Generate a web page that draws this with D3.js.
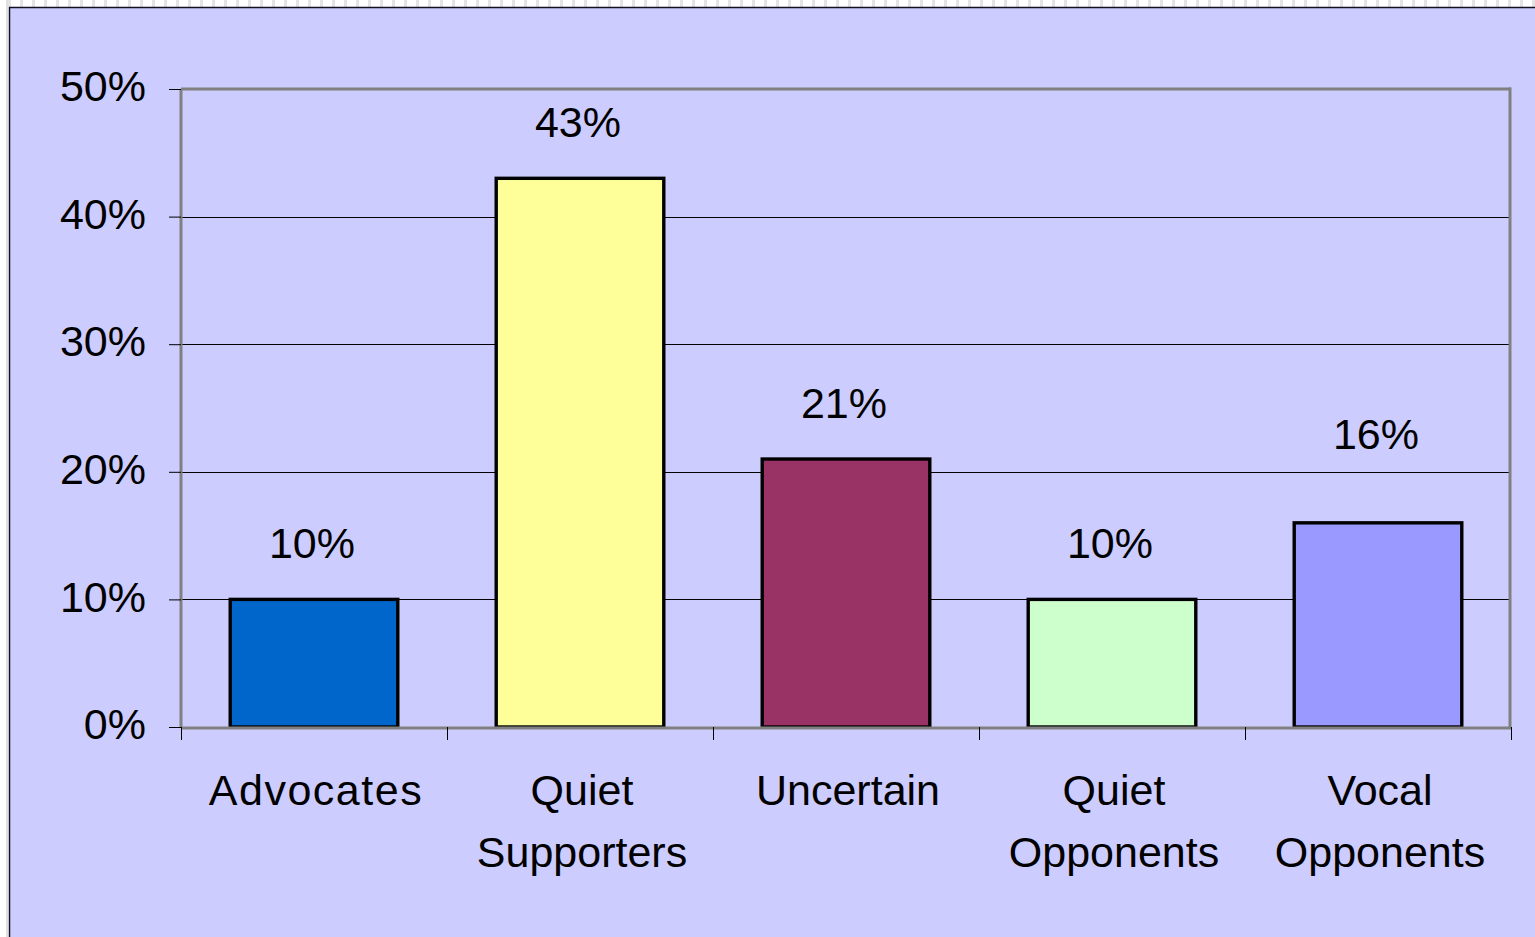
<!DOCTYPE html>
<html>
<head>
<meta charset="utf-8">
<script src="https://cdn.jsdelivr.net/npm/d3@7"></script>
<style>
  html, body { margin: 0; padding: 0; background: #ffffff; }
  svg { display: block; }
  text { font-family: "Liberation Sans", Arial, sans-serif; fill: #000; }
</style>
</head>
<body>
<svg id="chart" width="1535" height="937"></svg>
<script>
// ---- data ----
const categories = [["Advocates"], ["Quiet", "Supporters"], ["Uncertain"], ["Quiet", "Opponents"], ["Vocal", "Opponents"]];
const values = [0.10, 0.43, 0.21, 0.10, 0.16];
const valueLabels = ["10%", "43%", "21%", "10%", "16%"];
const barColors = ["#0066CC", "#FFFF99", "#993366", "#CCFFCC", "#9999FF"];
const yTicks = [0, 0.1, 0.2, 0.3, 0.4, 0.5];

const W = 1535, H = 937;
const svg = d3.select("#chart");

// page frame
svg.append("rect").attr("x", 0).attr("y", 0).attr("width", W).attr("height", H).attr("fill", "#ffffff");
const dashes = d3.range(0, W, 12);
svg.selectAll("rect.dash").data(dashes).join("rect")
  .attr("class", "dash").attr("x", d => d + 8).attr("y", 0).attr("width", 3).attr("height", 7).attr("fill", "#e4e4e4");
svg.append("rect").attr("x", 6).attr("y", 0).attr("width", 2).attr("height", H).attr("fill", "#e0e0e0");
svg.append("rect").attr("x", 9).attr("y", 7).attr("width", W).attr("height", H).attr("fill", "#CCCCFF");
svg.append("line").attr("x1", 9.5).attr("x2", 9.5).attr("y1", 7).attr("y2", H).attr("stroke", "#111122").attr("stroke-width", 1.5);
svg.append("line").attr("x1", 9).attr("x2", W).attr("y1", 7.5).attr("y2", 7.5).attr("stroke", "#111122").attr("stroke-width", 1.5);

// scales
const plotL = 181, plotR = 1511, plotT = 89, plotB = 727;
const names = categories.map(c => c.join(" "));
const x = d3.scaleBand().domain(names).range([plotL, plotR]).paddingInner(0.37).paddingOuter(0.185);
const y = d3.scaleLinear().domain([0, 0.5]).range([plotB, plotT]);

const gridVals = yTicks.filter(t => t > 0 && t < 0.5);

// gridlines
svg.selectAll("line.grid").data(gridVals).join("line")
  .attr("class", "grid")
  .attr("x1", plotL).attr("x2", plotR - 1)
  .attr("y1", d => Math.round(y(d)) + 0.5).attr("y2", d => Math.round(y(d)) + 0.5)
  .attr("stroke", "#000").attr("stroke-width", 1);

// plot border (top, right) gray
svg.append("line").attr("x1", plotL).attr("x2", plotR).attr("y1", plotT).attr("y2", plotT)
  .attr("stroke", "#808080").attr("stroke-width", 3);
svg.append("line").attr("x1", plotR - 1).attr("x2", plotR - 1).attr("y1", plotT - 1.5).attr("y2", plotB)
  .attr("stroke", "#808080").attr("stroke-width", 3);

// bars
svg.selectAll("rect.bar").data(values).join("rect")
  .attr("class", "bar")
  .attr("x", (d, i) => x(names[i]))
  .attr("y", d => y(d))
  .attr("width", x.bandwidth())
  .attr("height", d => plotB - y(d))
  .attr("fill", (d, i) => barColors[i])
  .attr("stroke", "#000").attr("stroke-width", 3.4);

// axes lines (gray)
svg.append("line").attr("x1", plotL).attr("x2", plotL).attr("y1", plotT).attr("y2", plotB + 1)
  .attr("stroke", "#808080").attr("stroke-width", 3);
svg.append("line").attr("x1", plotL).attr("x2", plotR).attr("y1", plotB + 1).attr("y2", plotB + 1)
  .attr("stroke", "#808080").attr("stroke-width", 3);

// y axis
const yAxis = d3.axisLeft(y).tickValues(yTicks).tickFormat(d3.format(".0%")).tickSize(12).tickPadding(23);
const gy = svg.append("g").attr("transform", `translate(${plotL},0)`).call(yAxis);
gy.select(".domain").remove();
gy.selectAll(".tick line").attr("stroke", "#000").attr("stroke-width", 1);
gy.selectAll(".tick text").attr("font-size", 43).attr("font-family", "Liberation Sans, Arial, sans-serif")
  .attr("fill", "#000").attr("dy", "0.27em");

// x axis ticks at category boundaries
const half = (x.step() - x.bandwidth()) / 2;
const bounds = names.map(n => x(n) - half).concat([x(names[names.length - 1]) + x.bandwidth() + half]);
svg.selectAll("line.xtick").data(bounds).join("line")
  .attr("class", "xtick")
  .attr("x1", d => Math.round(d) + 0.5).attr("x2", d => Math.round(d) + 0.5)
  .attr("y1", plotB).attr("y2", plotB + 13)
  .attr("stroke", "#000").attr("stroke-width", 1);

// category labels
const cl = svg.selectAll("text.cat").data(categories).join("text")
  .attr("class", "cat")
  .attr("text-anchor", "middle")
  .attr("font-size", 43);
cl.each(function(lines, i) {
  const t = d3.select(this);
  lines.forEach((ln, j) => {
    t.append("tspan")
      .attr("x", x(names[i]) + x.bandwidth() / 2 + 2)
      .attr("y", 805 + j * 62)
      .attr("letter-spacing", ln === "Advocates" ? 1.5 : 0)
      .text(ln);
  });
});

// value labels: placed above the bar; pushed above a gridline it would cross
function labelBaseline(v) {
  let b = y(v) - 41;
  gridVals.forEach(g => {
    const gy = y(g);
    if (gy > b - 32 && gy < b + 6) b = gy - 23;
  });
  return b;
}
svg.selectAll("text.val").data(values).join("text")
  .attr("class", "val")
  .attr("text-anchor", "middle")
  .attr("font-size", 43)
  .attr("x", (d, i) => x(names[i]) + x.bandwidth() / 2 - 2)
  .attr("y", d => labelBaseline(d))
  .text((d, i) => valueLabels[i]);
</script>
</body>
</html>
